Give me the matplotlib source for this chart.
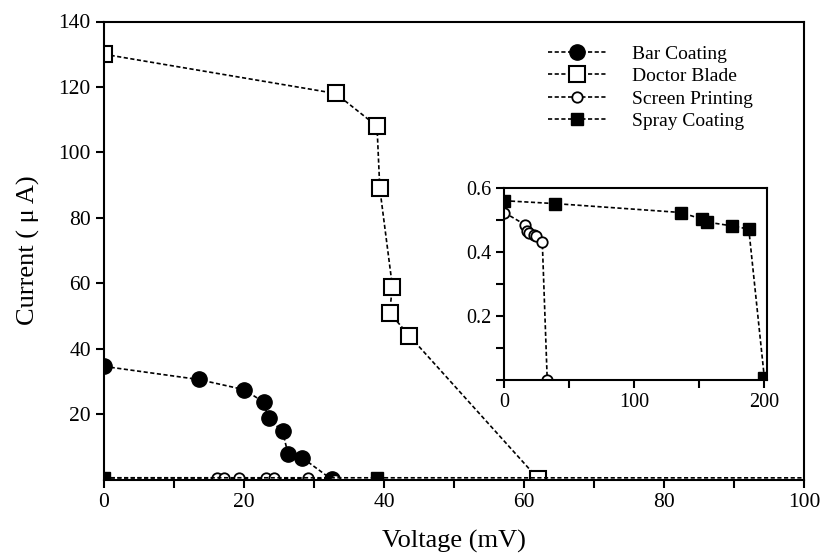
import matplotlib
matplotlib.use("Agg")
import matplotlib.pyplot as plt
from matplotlib.ticker import MultipleLocator

plt.rcParams['font.family'] = ['Liberation Serif', 'DejaVu Serif']
plt.rcParams['mathtext.fontset'] = 'stix'

# Data (voltage in mV, current in uA)
bar_x = [0, 13.5, 20.0, 22.8, 23.5, 25.5, 26.3, 28.3, 32.5]
bar_y = [34.6, 30.6, 27.5, 23.7, 18.7, 14.8, 7.8, 6.7, 0.1]

doctor_x = [0, 33.1, 39.0, 39.4, 41.2, 40.8, 43.6, 62.0]
doctor_y = [130, 118, 108, 89, 59, 51, 44, 0.3]

screen_x = [0, 16.2, 17.2, 19.3, 23.1, 24.3, 29.2, 33.0]
screen_y = [0.524, 0.485, 0.467, 0.459, 0.454, 0.449, 0.433, 0.0]

spray_x = [0, 39, 136, 152, 156, 175, 188, 200]
spray_y = [0.561, 0.552, 0.524, 0.503, 0.494, 0.482, 0.472, 0.004]

labels = ["Bar Coating", "Doctor Blade", "Screen Printing", "Spray Coating"]
main_xticks = [0, 20, 40, 60, 80, 100]
main_yticks = [20, 40, 60, 80, 100, 120, 140]
inset_xticks = [0, 100, 200]
inset_yticks = [0.2, 0.4, 0.6]

W, H = 822, 554
fig = plt.figure(figsize=(W / 100, H / 100), dpi=100)
ax = fig.add_axes([104 / W, 1 - 479.6 / H, (804 - 104) / W, (479.6 - 21.5) / H])

ls = (0, (2.5, 1.5))
lw = 1.2
ax.plot(bar_x, bar_y, linestyle=ls, lw=lw, color='black', marker='o', ms=11,
        mfc='black', mec='black', label=labels[0])
ax.plot(doctor_x, doctor_y, linestyle=ls, lw=lw, color='black', marker='s', ms=12,
        mfc='white', mec='black', mew=1.5, label=labels[1])
ax.plot(screen_x, screen_y, linestyle=ls, lw=lw, color='black', marker='o', ms=7.5,
        mfc='white', mec='black', mew=1.3, label=labels[2])
ax.plot(spray_x, spray_y, linestyle=ls, lw=lw, color='black', marker='s', ms=8.5,
        mfc='black', mec='black', label=labels[3])

ax.set_xlim(0, 100)
ax.set_ylim(0, 140)
ax.set_xticks(main_xticks)
ax.xaxis.set_minor_locator(MultipleLocator(10))
ax.set_yticks(main_yticks)
for s in ax.spines.values():
    s.set_linewidth(1.5)
ax.tick_params(which='both', direction='out', width=1.5, labelsize=15.5, top=False, right=False)
ax.tick_params(which='major', length=6)
ax.tick_params(which='minor', length=6)
ax.set_xlabel("Voltage (mV)", fontsize=19, labelpad=13)
ax.set_ylabel("Current ( \u03bc A)", fontsize=19, labelpad=13)

leg = ax.legend(loc='upper left', bbox_to_anchor=(548 / W, 1 - 45 / H),
                bbox_transform=fig.transFigure, frameon=False, fontsize=14,
                handlelength=3.0, handletextpad=1.3, labelspacing=0.25,
                borderpad=0, borderaxespad=0)

# Inset
ins = fig.add_axes([504.3 / W, 1 - 379.5 / H, (767 - 504.3) / W, (379.5 - 188.3) / H])
ins.plot(screen_x, screen_y, linestyle=ls, lw=lw, color='black', marker='o', ms=7.5,
         mfc='white', mec='black', mew=1.3)
ins.plot(spray_x, spray_y, linestyle=ls, lw=lw, color='black', marker='s', ms=9,
         mfc='black', mec='black')
ins.set_xlim(0, 202)
ins.set_ylim(0, 0.6)
ins.set_xticks(inset_xticks)
ins.xaxis.set_minor_locator(MultipleLocator(50))
ins.set_yticks(inset_yticks)
ins.set_yticklabels([f"{v:.1f}" for v in inset_yticks])
ins.yaxis.set_minor_locator(MultipleLocator(0.1))
for s in ins.spines.values():
    s.set_linewidth(1.5)
ins.tick_params(which='both', direction='out', width=1.5, length=6, labelsize=14.5,
                top=False, right=False)

fig.savefig("out.png", dpi=100)
